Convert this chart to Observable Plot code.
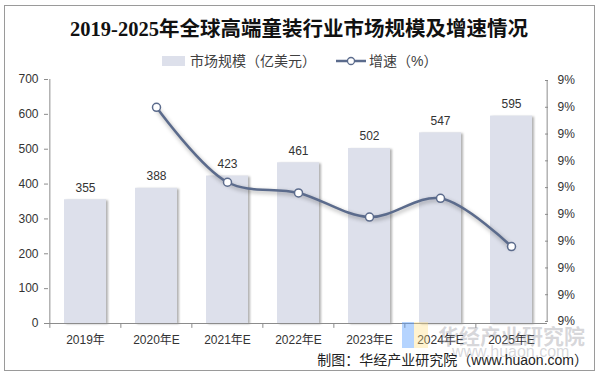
<!DOCTYPE html>
<html><head><meta charset="utf-8">
<script src="https://cdn.jsdelivr.net/npm/d3@7"></script>
<script src="https://cdn.jsdelivr.net/npm/@observablehq/plot@0.6"></script>
<style>
body{margin:0;background:#fff;}
#wrap{position:relative;width:600px;height:378px;overflow:hidden;font-family:"Liberation Sans","Noto Sans CJK SC",sans-serif;background:#fff;}
#border{position:absolute;left:4px;top:5px;width:591px;height:366px;border:1px solid #9a9a9a;box-sizing:border-box;}
#title{position:absolute;left:0;width:598px;top:12px;text-align:center;font-family:"Liberation Serif","Noto Sans CJK SC",serif;font-weight:bold;font-size:20.5px;color:#111;white-space:nowrap;}
.leg{position:absolute;top:52px;font-size:14px;color:#404040;white-space:nowrap;line-height:18px;}
#caption{position:absolute;right:12px;top:349px;font-size:14px;color:#222;white-space:nowrap;}
.wm{position:absolute;color:rgba(140,140,150,0.35);white-space:nowrap;font-weight:bold;}
.chart{position:absolute;left:0;top:70px;}
</style></head>
<body>
<div id="wrap">
  <div id="border"></div>
  <div id="title">2019-2025年全球高端童装行业市场规模及增速情况</div>
  <div class="leg" style="left:162px;"><span style="display:inline-block;width:23px;height:10px;background:#dde0eb;vertical-align:middle;margin-right:5px;position:relative;top:-1px;"></span>市场规模（亿美元）</div>
  <div class="leg" style="left:335px;"><svg width="32" height="12" style="vertical-align:middle;margin-right:2px;position:relative;top:-1px;"><line x1="1" y1="6" x2="31" y2="6" stroke="#5b6b8c" stroke-width="2.5"/><circle cx="16" cy="6" r="3.5" fill="#fff" stroke="#5b6b8c" stroke-width="1.3"/></svg>增速（%）</div>
  <div id="charts"></div>
  <div style="position:absolute;left:402px;top:322px;width:12px;height:26px;background:rgba(90,160,255,0.45);"></div>
  <div style="position:absolute;left:414px;top:322px;width:14px;height:26px;background:rgba(255,220,120,0.35);"></div>
  <div class="wm" style="left:438px;top:320px;font-size:21px;">华经产业研究院</div>
  <div class="wm" style="left:452px;top:343px;font-size:16px;font-weight:normal;">www.huaon.com</div>
  <div id="caption">制图：华经产业研究院（www.huaon.com）</div>
</div>
<script>
const categories = ["2019年","2020年E","2021年E","2022年E","2023年E","2024年E","2025年E"];
const marketSize = [355, 388, 423, 461, 502, 547, 595];
const growthCategories = ["2020年E","2021年E","2022年E","2023年E","2024年E","2025年E"];
const growthRate = [9.30, 9.02, 8.98, 8.89, 8.96, 8.78];
const leftTicks = [0, 100, 200, 300, 400, 500, 600, 700];
const rightTicks = [8.5, 8.6, 8.7, 8.8, 8.9, 9.0, 9.1, 9.2, 9.3, 9.4];

const W = 600, H = 290, ML = 48, MR = 53;
const step = (W - ML - MR) / categories.length;
const bars = categories.map((c, i) => ({cat: c, value: marketSize[i]}));
const growth = growthCategories.map((c, i) => ({cat: c, rate: growthRate[i]}));
const xBand = {type: "band", domain: categories, paddingInner: 0.41, paddingOuter: 0.205};
const font = '"Liberation Sans","Noto Sans CJK SC",sans-serif';
const axisGray = "#8c8c8c";

const p1 = Plot.plot({
  width: W, height: H, marginLeft: ML, marginRight: MR, marginTop: 9, marginBottom: 37,
  x: xBand,
  y: {domain: [0, 700]},
  style: {fontFamily: font, fontSize: "12px", color: "#333", background: "transparent"},
  marks: [
    Plot.barY(bars, {x: "cat", y: "value", fill: "#dde0eb"}),
    Plot.text(bars, {x: "cat", y: "value", text: d => String(d.value), dy: -12, fill: "#333", fontSize: 12}),
    Plot.ruleY([0], {stroke: axisGray}),
    Plot.ruleX([categories[0]], {dx: -step / 2, y1: 0, y2: 700, stroke: axisGray}),
    Plot.ruleX(categories, {dx: -step / 2, y1: 0, y2: -14, stroke: axisGray}),
    Plot.axisY({ticks: leftTicks, tickSize: 4, tickPadding: 6, stroke: axisGray, fill: "#333", label: null}),
    Plot.axisX({tickSize: 0, tickPadding: 12, fill: "#333", label: null})
  ]
});

const p2 = Plot.plot({
  width: W, height: H, marginLeft: ML, marginRight: MR, marginTop: 10, marginBottom: 39,
  x: {...xBand, axis: null},
  y: {domain: [8.5, 9.4]},
  style: {fontFamily: font, fontSize: "12px", color: "#333", background: "transparent"},
  marks: [
    Plot.ruleX([categories[categories.length - 1]], {dx: step / 2, y1: 8.5, y2: 9.4, stroke: axisGray}),
    Plot.axisY({anchor: "right", ticks: rightTicks, tickFormat: d => Math.round(d) + "%", tickSize: -3, tickPadding: 13, stroke: axisGray, fill: "#333", label: null}),
    Plot.line(growth, {x: "cat", y: "rate", stroke: "#5b6b8c", strokeWidth: 2.5, curve: "catmull-rom"}),
    Plot.dot(growth, {x: "cat", y: "rate", r: 4, fill: "#fff", stroke: "#5b6b8c", strokeWidth: 1.5})
  ]
});

for (const p of [p1, p2]) { p.classList.add("chart"); document.getElementById("charts").appendChild(p); }
d3.select(p1).select('g[aria-label="bar"]').style("filter", "drop-shadow(2px 1px 1px rgba(0,0,0,0.3))");
d3.select(p2).select('g[aria-label="line"]').style("filter", "drop-shadow(1px 2px 2px rgba(0,0,0,0.35))");
</script>
</body></html>
